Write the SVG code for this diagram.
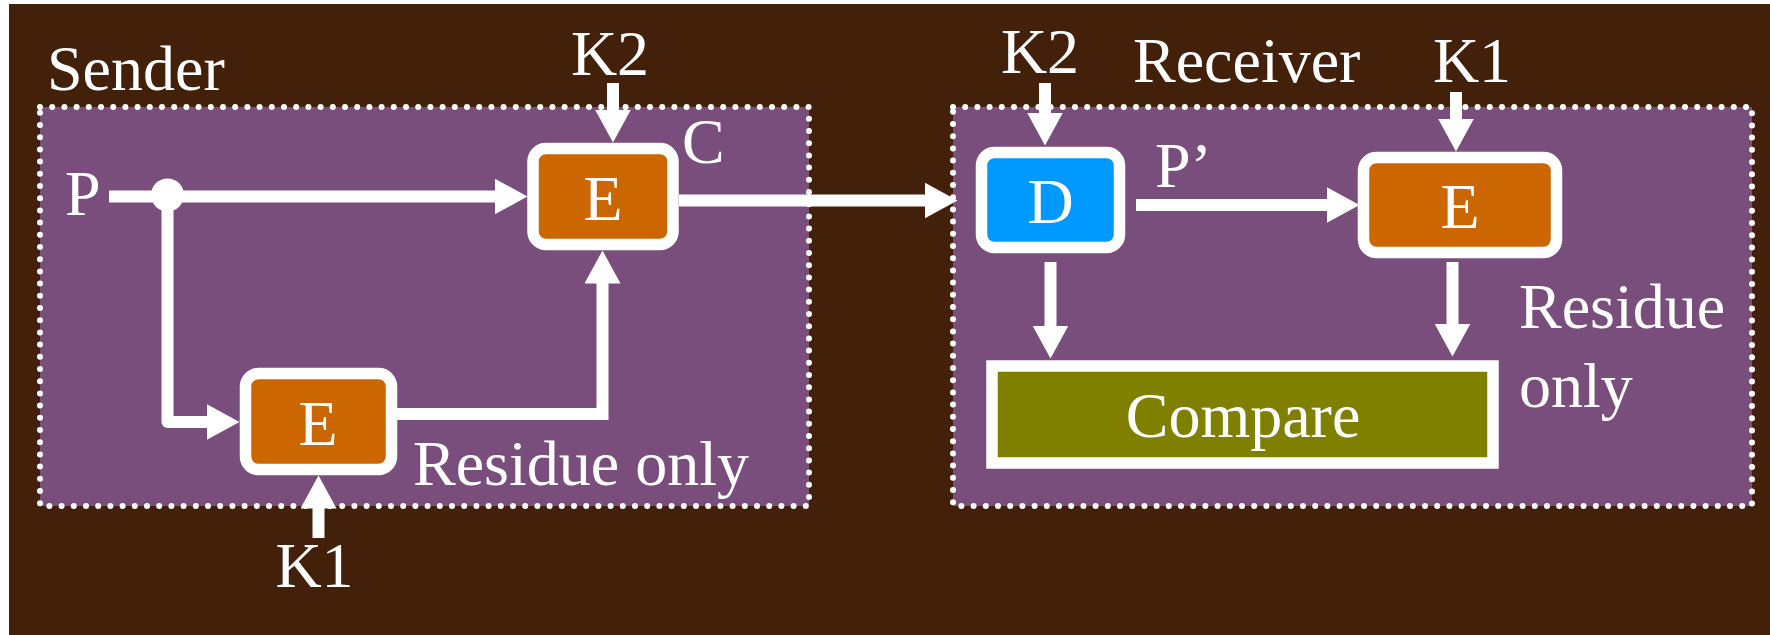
<svg xmlns="http://www.w3.org/2000/svg" width="1770" height="635" viewBox="0 0 1770 635">
  <defs>
    <style>
      text { font-family: "Liberation Serif", "Times New Roman", serif; font-size: 64px; fill: #ffffff; }
      .mid { text-anchor: middle; }
      .zone { fill: #7a4e7c; stroke: #ffffff; stroke-width: 6; stroke-dasharray: 0 12.2; stroke-linecap: round; }
      .box { stroke: #ffffff; stroke-width: 11.5; }
      .enc { fill: #cc6600; }
      .dec { fill: #0099ff; }
      .cmp { fill: #808000; }
      .wire { fill: none; stroke: #ffffff; stroke-width: 12; stroke-linecap: butt; }
    </style>
    <marker id="head" markerUnits="userSpaceOnUse" markerWidth="34" markerHeight="36" viewBox="0 0 34 36" refX="0.5" refY="18" orient="auto">
      <path d="M0,0 L33,18 L0,36 z" fill="#ffffff"/>
    </marker>
  </defs>

  <!-- page -->
  <rect x="0" y="0" width="1770" height="635" fill="#ffffff"/>
  <rect x="9" y="4" width="1761" height="631" fill="#42200a"/>

  <!-- sender and receiver regions -->
  <g id="sender">
    <rect class="zone" x="40" y="107" width="769" height="399"/>
    <text x="47" y="90">Sender</text>
  </g>
  <g id="receiver">
    <rect class="zone" x="953" y="107" width="799" height="399"/>
    <text x="1133" y="82">Receiver</text>
  </g>

  <!-- connectors -->
  <g id="connectors">
    <path class="wire" d="M109,196.5 H495" marker-end="url(#head)"/>
    <circle cx="167.5" cy="195" r="16.5" fill="#ffffff"/>
    <path class="wire" d="M167.5,196 V422 H207" stroke-linejoin="round" marker-end="url(#head)"/>
    <path class="wire" d="M397,414 H602.5 V283" stroke-linejoin="miter" marker-end="url(#head)"/>
    <path class="wire" d="M613,83 V110" marker-end="url(#head)"/>
    <path class="wire" d="M318.5,538 V508" marker-end="url(#head)"/>
    <path class="wire" d="M679,200.5 H925" marker-end="url(#head)"/>
    <path class="wire" d="M1045,83 V113" marker-end="url(#head)"/>
    <path class="wire" d="M1136,205 H1327" marker-end="url(#head)"/>
    <path class="wire" d="M1456,92 V119" marker-end="url(#head)"/>
    <path class="wire" d="M1050.5,262 V326" marker-end="url(#head)"/>
    <path class="wire" d="M1452.5,262 V324" marker-end="url(#head)"/>
  </g>

  <!-- sender nodes -->
  <g id="enc-c">
    <rect class="box enc" x="533" y="148.5" width="140" height="96" rx="13"/>
    <text class="mid" x="603" y="220">E</text>
  </g>
  <g id="enc-residue">
    <rect class="box enc" x="245.5" y="373.5" width="146" height="96" rx="13"/>
    <text class="mid" x="318" y="445">E</text>
  </g>

  <!-- receiver nodes -->
  <g id="dec">
    <rect class="box dec" x="981.5" y="152.5" width="138" height="95" rx="13"/>
    <text class="mid" x="1050.5" y="223">D</text>
  </g>
  <g id="enc-check">
    <rect class="box enc" x="1363.5" y="157.5" width="193" height="95" rx="13"/>
    <text class="mid" x="1460" y="228">E</text>
  </g>
  <g id="compare">
    <rect class="box cmp" x="992" y="366" width="501" height="97" stroke-width="12"/>
    <text class="mid" x="1243" y="437">Compare</text>
  </g>

  <!-- signal labels -->
  <g id="labels">
    <text x="65" y="215">P</text>
    <text class="mid" x="610" y="75">K2</text>
    <text x="682" y="163">C</text>
    <text x="413" y="485">Residue only</text>
    <text class="mid" x="314.5" y="587">K1</text>
    <text class="mid" x="1040" y="73">K2</text>
    <text class="mid" x="1472" y="82">K1</text>
    <text x="1155" y="187">P’</text>
    <text x="1519" y="328">Residue</text>
    <text x="1519" y="407">only</text>
  </g>
</svg>
